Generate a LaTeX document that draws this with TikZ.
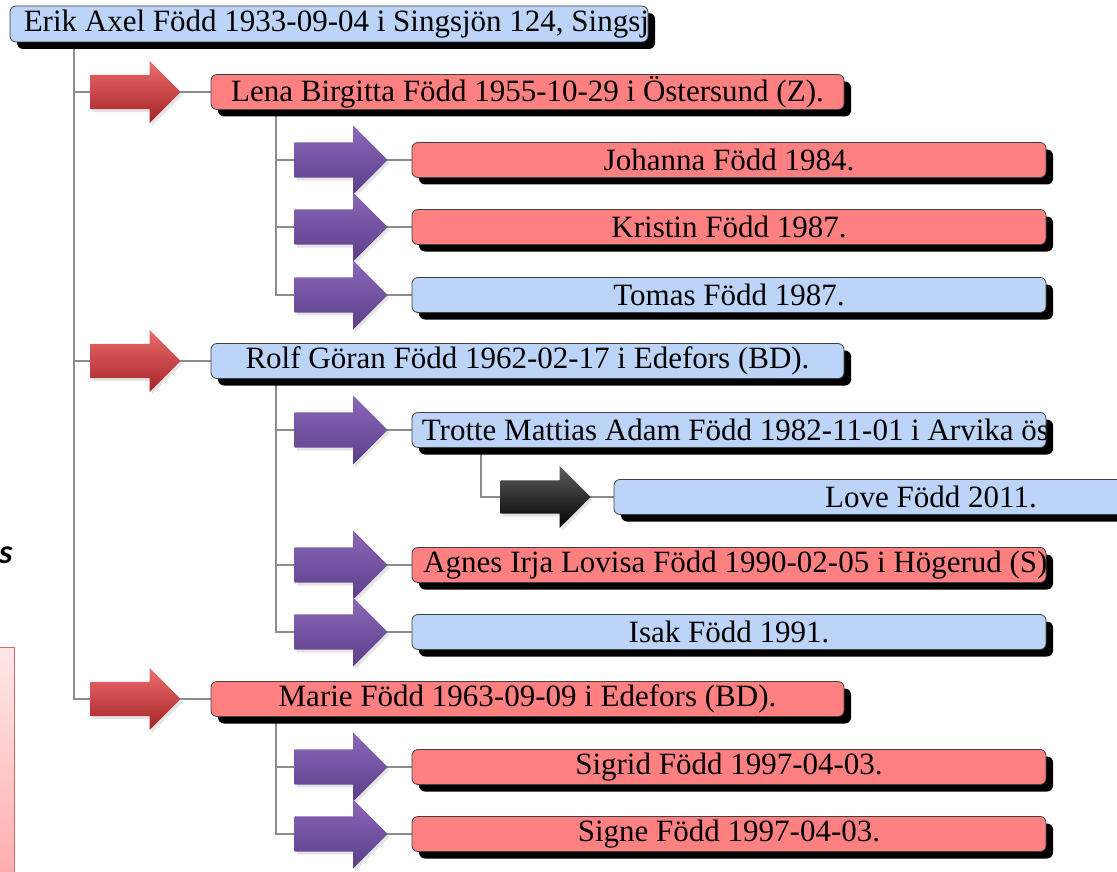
\documentclass[tikz,border=0pt]{standalone}
\usepackage{fontspec}
\setmainfont{Liberation Serif}
\newfontfamily\calib{Carlito}
\usetikzlibrary{shapes.arrows,shadows,backgrounds}
\definecolor{boxblue}{RGB}{188,212,248}
\definecolor{boxpink}{RGB}{255,128,128}
\definecolor{connGray}{RGB}{140,140,140}
\definecolor{redT}{RGB}{236,110,110}
\definecolor{redM}{RGB}{210,60,60}
\definecolor{redB}{RGB}{165,34,38}
\definecolor{purT}{RGB}{138,104,184}
\definecolor{purM}{RGB}{118,84,165}
\definecolor{purB}{RGB}{92,62,138}
\definecolor{blkT}{RGB}{95,95,95}
\definecolor{blkM}{RGB}{25,25,25}
\definecolor{blkB}{RGB}{0,0,0}
\definecolor{sideT}{RGB}{255,232,232}
\definecolor{sideB}{RGB}{255,172,172}
\definecolor{sideD}{RGB}{210,104,104}
\tikzset{
  fambox/.style={rounded corners=6pt, draw=black!75, line width=0.8pt,
    minimum height=35pt, inner sep=0pt, font=\fontsize{31}{31}\selectfont,
    drop shadow={shadow xshift=7pt, shadow yshift=-7pt, fill=black, opacity=1}},
  lvA/.style={fambox, minimum width=638pt, minimum height=36pt},
  lvB/.style={fambox, minimum width=633pt},
  lvC/.style={fambox, minimum width=634pt},
  fblue/.style={fill=boxblue},
  fpink/.style={fill=boxpink},
  cliptext/.style={path picture={\node[anchor=west, inner sep=0pt,
      font=\fontsize{31}{31}\selectfont] at ([xshift=#1]path picture bounding box.west) {\cliptxt};}},
  conn/.style={draw=connGray, line width=1.5pt},
  harrow/.style={single arrow, single arrow tip angle=90, inner xsep=0pt, anchor=tip,
    draw=none, drop shadow={shadow xshift=2pt, shadow yshift=-3pt, opacity=.2}},
  redarr/.style={harrow, inner ysep=17pt, single arrow head extend=14pt, minimum height=90pt,
    top color=redT, middle color=redM, bottom color=redB},
  purarr/.style={harrow, inner ysep=17.5pt, single arrow head extend=17pt, minimum height=93pt,
    top color=purT, middle color=purM, bottom color=purB},
  blkarr/.style={harrow, inner ysep=16.5pt, single arrow head extend=14.5pt, minimum height=90pt,
    top color=blkT, middle color=blkM, bottom color=blkB},
}
\newcommand{\cliptxt}{}
\begin{document}
\begin{tikzpicture}[x=1pt,y=-1pt]
\useasboundingbox (0,0) rectangle (1117,872);
\clip (0,0) rectangle (1117,872);

% boxes
\renewcommand{\cliptxt}{Erik Axel Född 1933-09-04 i Singsjön 124, Singsj}
\node[lvA, fblue, cliptext=7pt] (erik) at (329,24) {};
\node[lvB, fpink] (lena) at (527.5,92) {Lena Birgitta Född 1955-10-29 i Östersund (Z).};
\node[lvC, fpink] (johanna) at (729,160) {Johanna Född 1984.};
\node[lvC, fpink] (kristin) at (729,227) {Kristin Född 1987.};
\node[lvC, fblue] (tomas) at (729,295) {Tomas Född 1987.};
\node[lvB, fblue] (rolf) at (527.5,361) {Rolf Göran Född 1962-02-17 i Edefors (BD).};
\renewcommand{\cliptxt}{Trotte Mattias Adam Född 1982-11-01 i Arvika ös}
\node[lvC, fblue, cliptext=6pt] (trotte) at (729,430) {};
\node[lvC, fblue] (love) at (931,497) {Love Född 2011.};
\renewcommand{\cliptxt}{Agnes Irja Lovisa Född 1990-02-05 i Högerud (S)}
\node[lvC, fpink, cliptext=6pt] (agnes) at (729,565) {};
\node[lvC, fblue] (isak) at (729,632) {Isak Född 1991.};
\node[lvB, fpink] (marie) at (527.5,699) {Marie Född 1963-09-09 i Edefors (BD).};
\node[lvC, fpink] (sigrid) at (729,767) {Sigrid Född 1997-04-03.};
\node[lvC, fpink] (signe) at (729,834) {Signe Född 1997-04-03.};

% tree connectors
\coordinate (t0) at (74,0);
\coordinate (t1) at (276,0);
\coordinate (t2) at (481,0);
\begin{scope}[on background layer]
\fill[white] (0,0) rectangle (1117,872);
\draw[conn] (erik.south -| t0) |- (marie.west);
\draw[conn] (t0 |- lena.west) -- (lena.west);
\draw[conn] (t0 |- rolf.west) -- (rolf.west);
\draw[conn] (lena.south -| t1) |- (tomas.west);
\draw[conn] (t1 |- johanna.west) -- (johanna.west);
\draw[conn] (t1 |- kristin.west) -- (kristin.west);
\draw[conn] (rolf.south -| t1) |- (isak.west);
\draw[conn] (t1 |- trotte.west) -- (trotte.west);
\draw[conn] (t1 |- agnes.west) -- (agnes.west);
\draw[conn] (marie.south -| t1) |- (signe.west);
\draw[conn] (t1 |- sigrid.west) -- (sigrid.west);
\draw[conn] (trotte.south -| t2) |- (love.west);
\end{scope}

% arrows (placed by their tips)
\node[redarr] (aLena) at (181,92) {};
\node[redarr] (aRolf) at (181,361) {};
\node[redarr] (aMarie) at (181,699) {};
\node[purarr] (aJohanna) at (388,160) {};
\node[purarr] (aKristin) at (388,227) {};
\node[purarr] (aTomas) at (388,295) {};
\node[purarr] (aTrotte) at (388,430) {};
\node[purarr] (aAgnes) at (388,565) {};
\node[purarr] (aIsak) at (388,632) {};
\node[purarr] (aSigrid) at (388,767) {};
\node[purarr] (aSigne) at (388,834) {};
\node[blkarr] (aLove) at (591,497) {};

% left-edge fragments
\node[font=\calib\bfseries\itshape\fontsize{34}{34}\selectfont, anchor=base west, inner sep=0pt] (sfrag) at (-1,563) {s};
\draw[draw=sideD, line width=1pt, top color=sideT, bottom color=sideB] (-5,647) rectangle (14,880);
\end{tikzpicture}
\end{document}
